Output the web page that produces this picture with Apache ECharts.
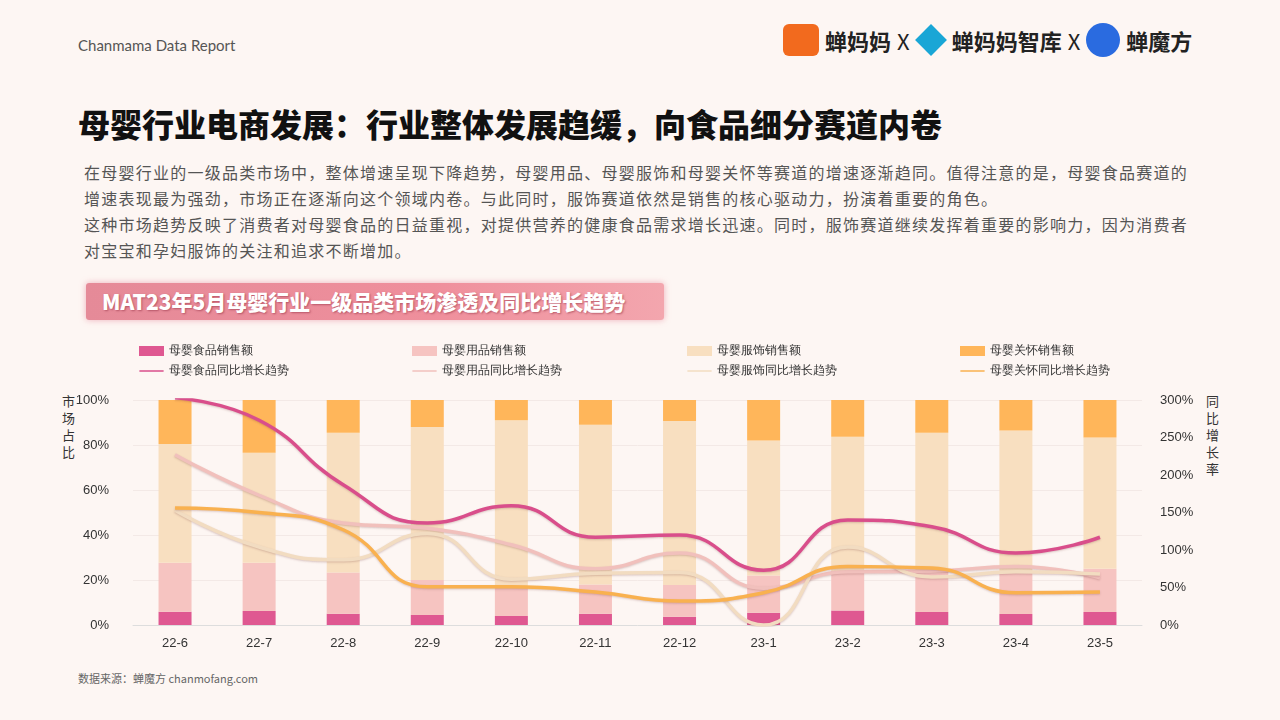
<!DOCTYPE html>
<html><head><meta charset="utf-8">
<script src="https://cdn.jsdelivr.net/npm/echarts@6/dist/echarts.min.js"></script>
<style>
body{margin:0;width:1280px;height:720px;background:#fdf6f3;font-family:"Noto Sans CJK SC","Noto Sans",sans-serif;position:relative;overflow:hidden}
.abs{position:absolute}
#chart{position:absolute;left:0;top:330px;width:1280px;height:340px}
.p{left:84px;top:159px;white-space:nowrap;font-size:16px;letter-spacing:1.25px;line-height:26px;color:#555}
.banner{left:86px;top:283px;width:578px;height:37px;background:linear-gradient(90deg,#e58a98,#ef8f9c 60%,#f3a6ae);border-radius:3px;box-shadow:0 0 6px rgba(230,130,150,.6)}
.banner span{position:absolute;left:16px;top:3px;font-size:21px;font-weight:900;color:#fff;text-shadow:1px 1px 2px rgba(150,50,70,.6)}
.vt{font-size:13px;color:#333;line-height:17px;width:14px}
</style></head><body>
<div class="abs" style="left:78px;top:36px;font-size:15px;color:#555;font-family:Lato">Chanmama Data Report</div>
<div class="abs" style="left:783px;top:23px;font-size:22px;font-weight:700;color:#222;display:flex;align-items:center;gap:6px">
 <span style="display:inline-block;width:36px;height:32px;background:#f26a1e;border-radius:6px"></span>蝉妈妈 <span style="font-weight:400">X</span>
 <span style="display:inline-block;width:30px;height:30px;background:#19a6d6;transform:rotate(45deg) scale(.75)"></span>蝉妈妈智库 <span style="font-weight:400">X</span>
 <span style="display:inline-block;width:34px;height:34px;background:#2a6be0;border-radius:50%"></span>蝉魔方
</div>
<div class="abs" style="left:78px;top:100px;font-size:32px;font-weight:900;color:#111">母婴行业电商发展：行业整体发展趋缓，向食品细分赛道内卷</div>
<div class="abs p">在母婴行业的一级品类市场中，整体增速呈现下降趋势，母婴用品、母婴服饰和母婴关怀等赛道的增速逐渐趋同。值得注意的是，母婴食品赛道的<br>增速表现最为强劲，市场正在逐渐向这个领域内卷。与此同时，服饰赛道依然是销售的核心驱动力，扮演着重要的角色。<br>这种市场趋势反映了消费者对母婴食品的日益重视，对提供营养的健康食品需求增长迅速。同时，服饰赛道继续发挥着重要的影响力，因为消费者<br>对宝宝和孕妇服饰的关注和追求不断增加。</div>
<div class="abs banner"><span>MAT23年5月母婴行业一级品类市场渗透及同比增长趋势</span></div>
<div class="abs vt" style="left:62px;top:392px">市场占比</div>
<div class="abs vt" style="left:1206px;top:392px">同比增长率</div>
<div class="abs" style="left:78px;top:670px;font-size:11px;color:#666">数据来源：蝉魔方 chanmofang.com</div>
<div id="chart"></div>
<script>
var months = ['22-6','22-7','22-8','22-9','22-10','22-11','22-12','23-1','23-2','23-3','23-4','23-5'];
// 市场占比（%）
var foodShare = [5.9, 6.2, 5.0, 4.4, 4.0, 5.0, 3.7, 5.5, 6.4, 5.8, 4.9, 5.8];
var goodsShare = [21.8, 21.5, 18.3, 15.6, 13.0, 13.0, 14.1, 16.5, 17.6, 18.2, 19.1, 19.2];
var clothShare = [52.7, 48.9, 62.2, 68.0, 74.0, 71.0, 72.9, 60.0, 59.7, 61.5, 62.4, 58.3];
var careShare = [19.6, 23.4, 14.5, 12.0, 9.0, 11.0, 9.3, 18.0, 16.3, 14.5, 13.6, 16.7];
// 同比增长率（%）
var foodYoy = [303, 273, 187, 136, 159, 117, 120, 73, 140, 131, 96, 117];
var goodsYoy = [227, 173, 136, 129, 107, 75, 96, 49, 71, 72, 78, 63];
var clothYoy = [153, 104, 87, 122, 61, 69, 70, 0, 104, 64, 71, 68];
var careYoy = [156, 150, 127, 51, 51, 44, 32, 43, 78, 76, 43, 44];

var barColors = ['#df5891', '#f6c4c1', '#f8dfc0', '#ffb65a'];
var lineColors = ['#d94e8b', '#f1c0bc', '#f2dcc1', '#f9b14f'];
var names = ['母婴食品', '母婴用品', '母婴服饰', '母婴关怀'];
var shares = [foodShare, goodsShare, clothShare, careShare];
var yoys = [foodYoy, goodsYoy, clothYoy, careYoy];

var myChart = echarts.init(document.getElementById('chart'));
var series = [], legends = [];
var legendX = [134, 407, 682, 955];
for (var i = 0; i < 4; i++) {
    series.push({
        name: names[i] + '销售额', type: 'bar', stack: 'share', barWidth: 33,
        itemStyle: { color: barColors[i] }, data: shares[i]
    });
    legends.push({
        left: legendX[i], top: 10, orient: 'vertical', itemGap: 8, itemWidth: 25, itemHeight: 10,
        textStyle: { fontSize: 12, color: '#333' },
        data: [{ name: names[i] + '销售额', icon: 'rect' },
               { name: names[i] + '同比增长趋势', icon: 'path://M0,4 L30,4 Q32,5 30,6 L0,6 Q-2,5 0,4 Z' }]
    });
}
for (var i = 0; i < 4; i++) {
    series.push({
        name: names[i] + '同比增长趋势', type: 'line', yAxisIndex: 1, smooth: true, symbol: 'none',
        lineStyle: { width: 3.5, color: lineColors[i], shadowColor: 'rgba(120,60,60,.25)', shadowBlur: 2, shadowOffsetY: 1 },
        itemStyle: { color: lineColors[i] }, data: yoys[i]
    });
}
var option = {
    animation: false,
    legend: legends,
    grid: { left: 133, right: 138, top: 70, bottom: 45 },
    xAxis: {
        type: 'category', data: months,
        axisLine: { lineStyle: { color: '#ddd' } }, axisTick: { show: false },
        axisLabel: { color: '#333', fontSize: 13, margin: 12 }
    },
    yAxis: [{
        type: 'value', min: 0, max: 100, interval: 20,
        axisLabel: { formatter: '{value}%', color: '#333', fontSize: 13, margin: 24 },
        splitLine: { lineStyle: { color: '#f3e9e6' } }
    }, {
        type: 'value', min: 0, max: 300, interval: 50,
        axisLabel: { formatter: '{value}%', color: '#333', fontSize: 13, margin: 18 },
        splitLine: { show: false }
    }],
    series: series
};
myChart.setOption(option);
</script>
</body></html>
